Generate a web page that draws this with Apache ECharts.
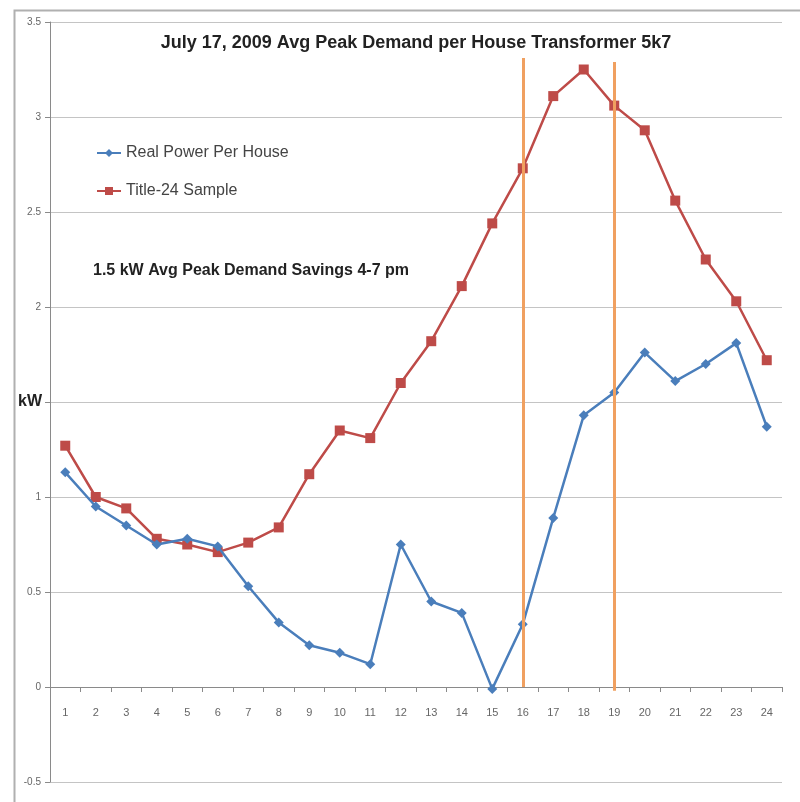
<!DOCTYPE html>
<html>
<head>
<meta charset="UTF-8">
<title>Avg Peak Demand</title>
<script src="https://cdn.jsdelivr.net/npm/echarts@6/dist/echarts.min.js"></script>
<style>
  html, body { margin: 0; padding: 0; background: #fff; }
  #chart { width: 800px; height: 802px; }
</style>
</head>
<body>
<div id="chart"></div>
<script>
// hours of the day
var hours = ['1','2','3','4','5','6','7','8','9','10','11','12','13','14','15','16','17','18','19','20','21','22','23','24'];
// kW
var realPower = [1.13, 0.95, 0.85, 0.75, 0.78, 0.74, 0.53, 0.34, 0.22, 0.18, 0.12, 0.75,
                 0.45, 0.39, -0.01, 0.33, 0.89, 1.43, 1.55, 1.76, 1.61, 1.70, 1.81, 1.37];
var title24 = [1.27, 1.00, 0.94, 0.78, 0.75, 0.71, 0.76, 0.84, 1.12, 1.35, 1.31, 1.60,
               1.82, 2.11, 2.44, 2.73, 3.11, 3.25, 3.06, 2.93, 2.56, 2.25, 2.03, 1.72];
// peak window markers (hour, top value)
var peakStart = ['16', 3.31];
var peakEnd = ['19', 3.29];

var font = "'Liberation Sans', sans-serif";

var chart = echarts.init(document.getElementById('chart'));

var option = {
    animation: false,
    textStyle: { fontFamily: font },
    title: {
        text: 'July 17, 2009 Avg Peak Demand per House Transformer 5k7',
        left: 411,
        textAlign: 'center',
        top: 29,
        textStyle: { fontFamily: font, fontSize: 18, fontWeight: 'bold', color: '#222' }
    },
    legend: {
        orient: 'vertical',
        left: 91,
        top: 140,
        itemGap: 22,
        itemWidth: 24,
        itemHeight: 10,
        textStyle: { fontFamily: font, fontSize: 16, color: '#444' },
        data: ['Real Power Per House', 'Title-24 Sample']
    },
    graphic: [{
        type: 'rect',
        left: 12, top: 8,
        shape: { width: 800, height: 800 },
        style: { fill: 'none', stroke: '#b0b0b0', lineWidth: 2 },
        silent: true
    }, {
        type: 'text',
        left: 93, top: 263,
        style: {
            text: '1.5 kW Avg Peak Demand Savings 4-7 pm',
            font: 'bold 16px ' + font,
            fill: '#222'
        }
    }],
    grid: { left: 50, right: 18, top: 22, bottom: 20, containLabel: false, outerBoundsMode: 'none' },
    xAxis: {
        type: 'category',
        data: hours,
        boundaryGap: true,
        axisLine: { onZero: true, lineStyle: { color: '#8a8a8a', width: 1 } },
        axisTick: { show: true, length: 5, inside: false, lineStyle: { color: '#8a8a8a' } },
        // labels sit under the zero line, not at the grid bottom
        axisLabel: { color: '#666', fontSize: 11, margin: -75, fontFamily: font }
    },
    yAxis: {
        type: 'value',
        min: -0.5,
        max: 3.5,
        interval: 0.5,
        name: 'kW',
        nameLocation: 'middle',
        nameRotate: 0,
        nameGap: 8,
        nameMoveOverlap: false,
        nameTextStyle: { fontFamily: font, fontSize: 16, fontWeight: 'bold', color: '#222' },
        axisLine: { show: true, lineStyle: { color: '#8a8a8a', width: 1 } },
        axisTick: { show: true, length: 5, lineStyle: { color: '#8a8a8a' } },
        axisLabel: {
            color: '#666', fontSize: 10, margin: 9, fontFamily: font,
            formatter: function (v) { return v === 1.5 ? '' : String(v); }
        },
        splitLine: { show: true, lineStyle: { color: '#c4c4c4', width: 1 } }
    },
    series: [{
        name: 'Real Power Per House',
        type: 'line',
        data: realPower,
        symbol: 'diamond',
        symbolSize: 10,
        itemStyle: { color: '#4a7ebb' },
        lineStyle: { color: '#4a7ebb', width: 2.5 },
        z: 3
    }, {
        name: 'Title-24 Sample',
        type: 'line',
        data: title24,
        symbol: 'rect',
        symbolSize: 10,
        itemStyle: { color: '#be4b48' },
        lineStyle: { color: '#be4b48', width: 2.5 },
        z: 2,
        markLine: {
            silent: true,
            symbol: ['none', 'none'],
            label: { show: false },
            lineStyle: { color: '#f0a060', width: 3, type: 'solid' },
            data: [
                [{ coord: [peakStart[0], peakStart[1]] }, { coord: [peakStart[0], 0] }],
                [{ coord: [peakEnd[0], peakEnd[1]] }, { coord: [peakEnd[0], -0.02] }]
            ]
        }
    }]
};

chart.setOption(option);
</script>
</body>
</html>
